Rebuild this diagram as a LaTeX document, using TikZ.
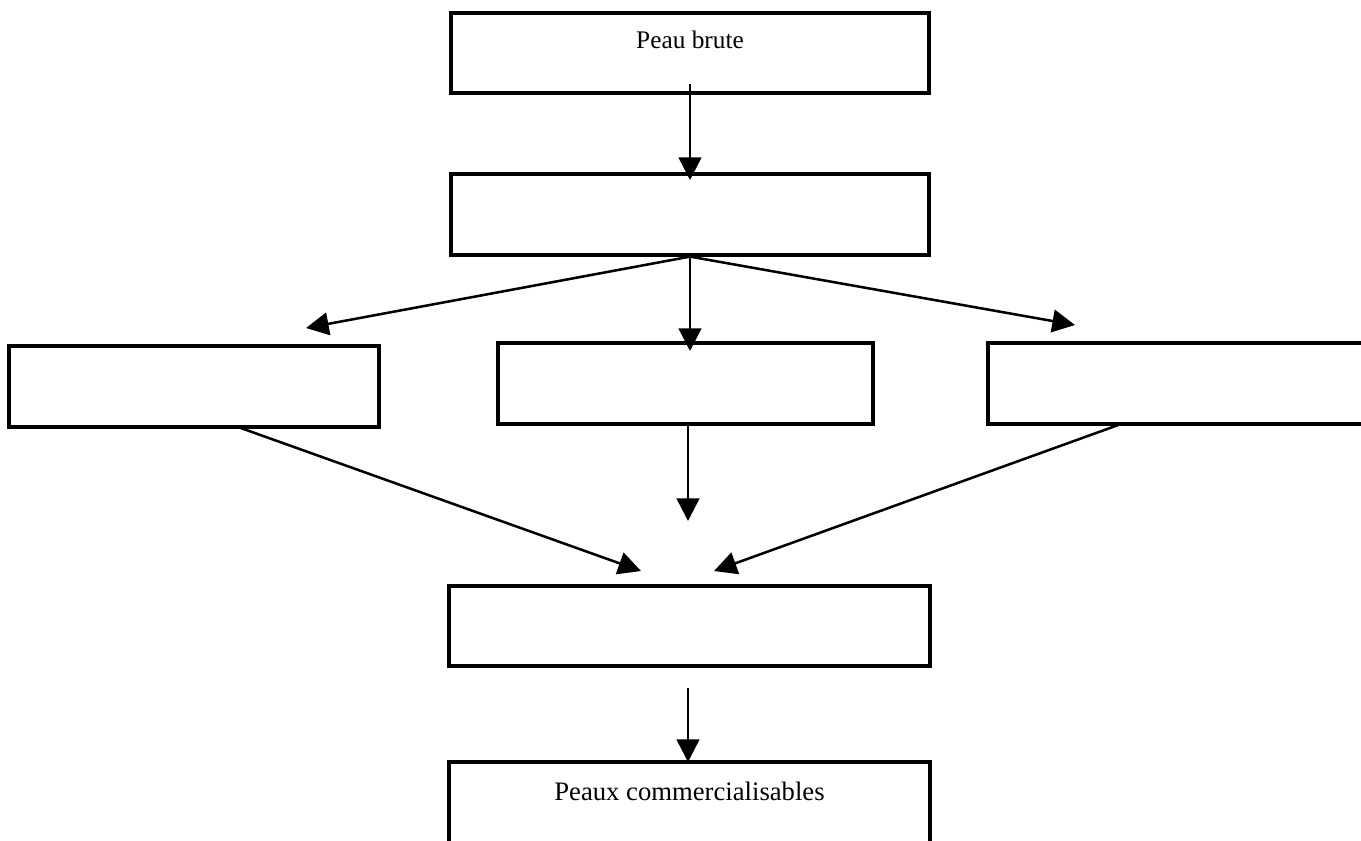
\documentclass[tikz,border=0pt]{standalone}
\usepackage{fontspec}
\setmainfont{Liberation Serif}
\usetikzlibrary{arrows.meta}
\begin{document}
\begin{tikzpicture}[x=0.75pt,y=-0.75pt,
  box/.style={draw,line width=2.4pt,inner sep=0pt,minimum height=60.75pt},
  arr/.style={line width=1.9pt,-{Triangle[length=17pt,width=17pt]}},
  lbl/.style={font=\fontsize{19}{22}\selectfont,anchor=base,inner sep=0pt}]
\useasboundingbox (0,0) rectangle (1361,840);
\fill[white] (0,0) rectangle (1361,840);
\clip (0,0) rectangle (1361,840);
% boxes
\node[box,minimum width=358.5pt,minimum height=60pt] (top) at (690,53) {};
\node[box,minimum width=358.5pt] (second) at (690,214.5) {};
\node[box,minimum width=277.5pt] (left) at (194,386.5) {};
\node[box,minimum width=281.25pt] (mid) at (685.5,383.5) {};
\node[box,minimum width=286.5pt] (right) at (1179,383.5) {};
\node[box,minimum width=360.75pt,minimum height=60pt] (four) at (689.5,626) {};
\node[box,minimum width=360.75pt,minimum height=66pt] (last) at (689.5,806) {};
% labels
\node[lbl] (t1) at (690,48) {Peau brute};
\node[lbl,font=\fontsize{20}{23}\selectfont] (t2) at (689.5,800) {Peaux commercialisables};
% connector end points
\coordinate (a1s) at (690,84);
\coordinate (a1e) at (690,180);
\coordinate (dl) at (306,328);
\coordinate (dm) at (690,351);
\coordinate (dr) at (1075,325);
\coordinate (ls) at (238,427);
\coordinate (le) at (641,571);
\coordinate (ms) at (688,424);
\coordinate (me) at (688,521);
\coordinate (rs) at (1121,424);
\coordinate (re) at (714,571);
\coordinate (bs) at (688,688);
\coordinate (be) at (688,762);
% connectors
\draw[arr] (a1s) -- (a1e);
\draw[arr] (second.south) -- (dl);
\draw[arr] (second.south) -- (dm);
\draw[arr] (second.south) -- (dr);
\draw[arr] (ls) -- (le);
\draw[arr] (ms) -- (me);
\draw[arr] (rs) -- (re);
\draw[arr] (bs) -- (be);
\end{tikzpicture}
\end{document}
